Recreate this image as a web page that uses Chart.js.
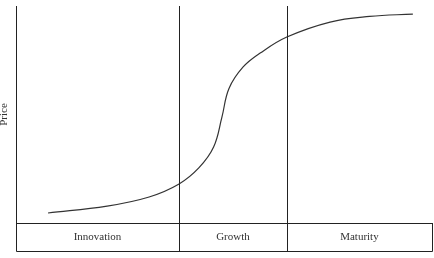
<!DOCTYPE html>
<html>
<head>
<meta charset="utf-8">
<title>Price life cycle</title>
<script src="https://cdn.jsdelivr.net/npm/chart.js@4/dist/chart.umd.min.js"></script>
<style>
  html, body { margin: 0; padding: 0; background: #fff; }
  #wrap { width: 434px; height: 258px; }
</style>
</head>
<body>
<div id="wrap"><canvas id="cycleChart" width="434" height="258"></canvas></div>
<script>
// ---- data (time 0..100, price 0..100) ----
const timeValues  = [7.7, 21.9, 32.0, 39.2, 44.0, 47.5, 49.5, 51.2, 54.6, 58.7, 65.1, 75.5, 85.0, 95.4];
const priceValues = [4.6, 7.8, 12.0, 18.0, 25.5, 35.0, 48.8, 62.0, 71.9, 78.3, 85.7, 92.6, 95.2, 96.3];
const phaseNames  = ['Innovation', 'Growth', 'Maturity'];
const phaseEdges  = [0, 39.2, 65.1, 100];

const lineColor = '#222';
const serif = "'Liberation Serif', 'Times New Roman', serif";

// phase strip under the plot + divider lines
const phasePlugin = {
    id: 'phases',
    afterDraw(chart) {
        const { ctx, chartArea, scales: { x } } = chart;
        const stripBottom = chartArea.bottom + 28;
        ctx.save();
        ctx.strokeStyle = lineColor;
        ctx.lineWidth = 1;
        ctx.beginPath();
        // strip box (top edge is the x axis border)
        ctx.moveTo(chartArea.left + 0.5, chartArea.bottom);
        ctx.lineTo(chartArea.left + 0.5, stripBottom + 0.5);
        ctx.lineTo(chartArea.right + 0.5, stripBottom + 0.5);
        ctx.lineTo(chartArea.right + 0.5, chartArea.bottom);
        // inner dividers run the full height
        for (let i = 1; i < phaseEdges.length - 1; i++) {
            const px = Math.round(x.getPixelForValue(phaseEdges[i])) + 0.5;
            ctx.moveTo(px, chartArea.top);
            ctx.lineTo(px, stripBottom);
        }
        ctx.stroke();

        ctx.fillStyle = '#333';
        ctx.font = '11px ' + serif;
        ctx.textAlign = 'center';
        ctx.textBaseline = 'middle';
        phaseNames.forEach((name, i) => {
            const a = x.getPixelForValue(phaseEdges[i]);
            const b = x.getPixelForValue(phaseEdges[i + 1]);
            ctx.fillText(name, (a + b) / 2, chartArea.bottom + 14);
        });
        ctx.restore();
    }
};

new Chart(document.getElementById('cycleChart'), {
    type: 'line',
    data: {
        datasets: [{
            data: timeValues.map((t, i) => ({ x: t, y: priceValues[i] })),
            borderColor: '#333',
            borderWidth: 1.2,
            pointRadius: 0,
            tension: 0.4,
            fill: false
        }]
    },
    options: {
        responsive: false,
        animation: false,
        layout: { padding: { top: 6, right: 2, left: 0, bottom: 0 } },
        plugins: { legend: { display: false }, tooltip: { enabled: false } },
        scales: {
            x: {
                type: 'linear', min: 0, max: 100,
                grid: { display: false },
                ticks: { display: false },
                border: { display: true, color: lineColor, width: 1 },
                afterFit: (axis) => { axis.height = 35; }
            },
            y: {
                min: 0, max: 100,
                grid: { display: false },
                ticks: { display: false },
                border: { display: true, color: lineColor, width: 1 },
                title: { display: true, text: 'Price', color: '#333', padding: { top: -2, bottom: 0 }, font: { family: serif, size: 11 } },
                afterFit: (axis) => { axis.width = 16; }
            }
        }
    },
    plugins: [phasePlugin]
});
</script>
</body>
</html>
